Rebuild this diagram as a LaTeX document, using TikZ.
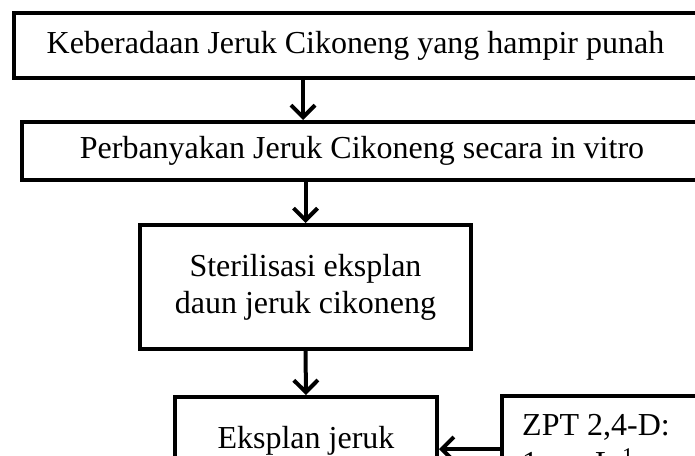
\documentclass[tikz,border=0pt]{standalone}
\usepackage{fontspec}
\setmainfont{Liberation Serif}
\usetikzlibrary{arrows.meta}
\tikzset{
  box/.style={draw=black, line width=4pt, rectangle, inner sep=0pt, fill=white, align=center,
    font=\fontsize{32}{36.8}\selectfont},
  txt/.style={inner sep=0pt, font=\fontsize{32}{36.8}\selectfont},
  arr/.style={line width=4pt, -{Straight Barb[length=12pt,width=24pt]}}
}
\begin{document}
\begin{tikzpicture}[x=1pt,y=-1pt]
\useasboundingbox (0,0) rectangle (695,455);
\clip (0,0) rectangle (695,455);
\node[box, minimum width=683pt, minimum height=65pt] (b1) at (355.5,45.5) {Keberadaan Jeruk Cikoneng yang hampir punah};
\node[box, minimum width=680pt, minimum height=58pt] (b2) at (362,151) {Perbanyakan Jeruk Cikoneng secara in vitro};
\node[box, minimum width=331pt, minimum height=124pt] (b3) at (305.5,287) {Sterilisasi eksplan\\daun jeruk cikoneng};
\node[box, minimum width=262pt, minimum height=104pt, anchor=north] (b4) at (306,395) {};
\node[txt, anchor=base] (t4) at (306,448) {Eksplan jeruk};
\node[box, minimum width=260pt, minimum height=106pt, anchor=north west] (b5) at (500,394) {};
\node[txt, anchor=base west] (t5a) at (522,435) {ZPT 2,4-D:};
\node[txt, anchor=base west] (t5b) at (522,473) {1 mg L\textsuperscript{-1}};
\draw[arr] (b1.south -| 303,0) -- (b2.north -| 303,0);
\draw[arr] (b2.south -| 305.5,0) -- (b3.north);
\draw[arr] (b3.south) -- (b4.north);
\draw[arr] (b5.west) -- (b4.east);
\end{tikzpicture}
\end{document}
